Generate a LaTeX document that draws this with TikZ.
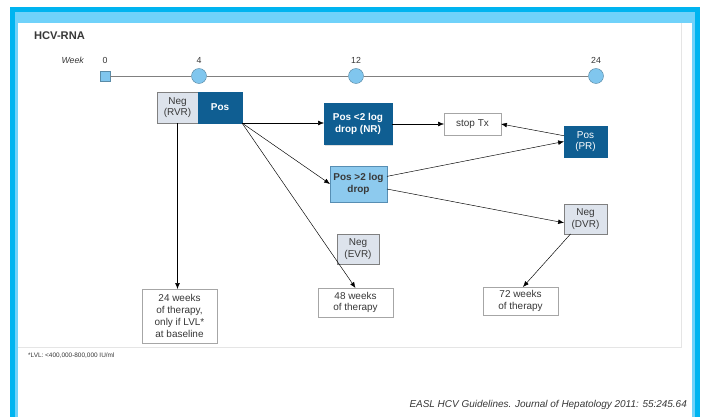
\documentclass[tikz,border=0pt]{standalone}
\usepackage{fontspec}
\setmainfont{Liberation Sans}
\usepackage{tikz}
\usetikzlibrary{shadows,arrows.meta}

\definecolor{frameblue}{HTML}{00B4F0}
\definecolor{bandblue}{HTML}{70D2FA}
\definecolor{darkbox}{HTML}{0F5E92}
\definecolor{lightbox}{HTML}{8DCAEE}
\definecolor{greybox}{HTML}{DDE3EC}
\definecolor{dotblue}{HTML}{80C6EE}
\definecolor{txt}{HTML}{383838}

\begin{document}
\begin{tikzpicture}[
			x=0.03cm, y=-0.03cm, >={Latex[length=5pt,width=4pt]},
			box/.style = {draw=gray!70, fill=white, rectangle, inner sep=1pt, outer sep=0pt, align=center,
				font=\fontsize{8.5}{10}\selectfont, text=txt, line width=0.6pt,
				drop shadow={opacity=0.25, shadow xshift=1.2pt, shadow yshift=-1.2pt}},
			posbox/.style = {box, fill=darkbox, draw=darkbox, text=white, font=\fontsize{8.5}{10}\selectfont\bfseries},
			dropbox/.style = {box, fill=lightbox, draw=darkbox!70, font=\fontsize{8.5}{10}\selectfont\bfseries},
			negbox/.style = {box, fill=greybox, draw=gray},
			tick/.style = {circle, draw=dotblue!70!black, fill=dotblue, minimum size=0.45cm, inner sep=0pt},
			wk/.style = {font=\fontsize{7.5}{8}\selectfont, text=txt}
		]
		\useasboundingbox (0,0) rectangle (704,417);
		% frame
		\fill[frameblue] (10,7) rectangle (700,417);
		\fill[bandblue] (15,12) rectangle (695,417);
		\fill[white] (18,23) rectangle (692,417);
		\draw[gray!20, line width=0.8pt] (18,347) -- (681,347) -- (681,23);

		\node[anchor=west, font=\fontsize{9.5}{11}\selectfont\bfseries, text=txt] (title) at (30,36) {HCV-RNA};

		% timeline
		\node[wk, anchor=east, font=\fontsize{7.5}{8}\selectfont\itshape] (week) at (88,60) {Week};
		\node[rectangle, draw=dotblue!70!black, fill=dotblue, minimum size=0.3cm, inner sep=0pt] (t0) at (105,76) {};
		\node[tick] (t4) at (199,76) {};
		\node[tick] (t12) at (356,76) {};
		\node[tick] (t24) at (596,76) {};
		\node[wk] at (105,60) {0};
		\node[wk] at (199,60) {4};
		\node[wk] at (356,60) {12};
		\node[wk] at (596,60) {24};
		\draw[gray] (t0) -- (t4) -- (t12) -- (t24);

		% boxes
		\node[negbox, minimum width=1.23cm, minimum height=0.93cm] (rvr) at (177.5,107.5) {Neg\\(RVR)};
		\node[posbox, minimum width=1.32cm, minimum height=0.93cm] (pos) at (220,107.5) {Pos};
		\node[posbox, minimum width=2.04cm, minimum height=1.23cm] (nr) at (358,124) {Pos <2 log\\drop (NR)};
		\node[box, minimum width=1.71cm, minimum height=0.66cm] (stop) at (472.5,124) {stop Tx};
		\node[posbox, minimum width=1.29cm, minimum height=0.93cm, font=\fontsize{8.5}{10}\selectfont] (pr) at (585.5,141.5) {Pos\\(PR)};
		\node[dropbox, minimum width=1.71cm, minimum height=1.08cm] (gt) at (358.5,184) {Pos >2 log\\drop};
		\node[negbox, minimum width=1.26cm, minimum height=0.9cm] (evr) at (358,249) {Neg\\(EVR)};
		\node[negbox, minimum width=1.29cm, minimum height=0.9cm] (dvr) at (585.5,219) {Neg\\(DVR)};
		\node[box, minimum width=2.25cm, minimum height=1.62cm] (w24) at (179.5,316) {24 weeks\\of therapy,\\only if LVL*\\at baseline};
		\node[box, minimum width=2.25cm, minimum height=0.87cm] (w48) at (355.5,302.5) {48 weeks\\of therapy};
		\node[box, minimum width=2.25cm, minimum height=0.84cm] (w72) at (520.5,301) {72 weeks\\of therapy};

		% arrows
		\draw[->] (rvr.south) -- (rvr.south |- w24.north);
		\draw[->] (pos.south east) -- (nr.west |- pos.south east);
		\draw[->] (pos.south east) -- (gt.west);
		\draw[->] (pos.south east) -- (w48.north);
		\draw[->] (nr.east) -- (stop.west);
		\draw[->] (pr.165) -- (stop.east);
		\draw[->] (gt.15) -- (pr.west);
		\draw[->] (gt.-10) -- (dvr.190);
		\draw[->] (dvr.225) -- (w72.80);

		\node[anchor=west, font=\fontsize{5.5}{6}\selectfont, text=txt] (note) at (24,356) {*LVL: <400,000-800,000 IU/ml};
		\node[anchor=east, font=\fontsize{8.5}{9}\selectfont\itshape, text=txt] (cite) at (691,405) {EASL HCV Guidelines. Journal of Hepatology 2011: 55:245.64};
	\end{tikzpicture}
\end{document}
